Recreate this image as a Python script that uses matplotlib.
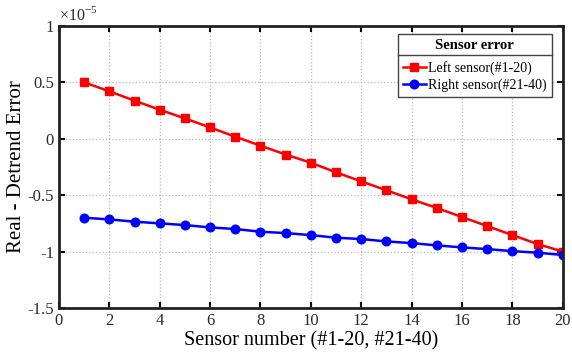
import numpy as np
import matplotlib
matplotlib.use('Agg')
import matplotlib.pyplot as plt
from matplotlib.ticker import FuncFormatter
from matplotlib.lines import Line2D

plt.rcParams['font.family'] = ['Liberation Serif', 'DejaVu Serif']
plt.rcParams['mathtext.fontset'] = 'custom'
plt.rcParams['mathtext.rm'] = 'Liberation Serif'
plt.rcParams['axes.unicode_minus'] = False

# values in units of 1e-5
sensor = list(range(1, 21))
left_err = [0.50, 0.42, 0.337, 0.257, 0.18, 0.10, 0.018, -0.062, -0.14, -0.213,
            -0.298, -0.378, -0.457, -0.537, -0.614, -0.694, -0.774, -0.854, -0.933, -1.0]
right_err = [-0.70, -0.715, -0.735, -0.75, -0.765, -0.786, -0.80, -0.824, -0.836, -0.854,
             -0.877, -0.889, -0.91, -0.925, -0.945, -0.963, -0.978, -0.996, -1.01, -1.03]

fig = plt.figure(figsize=(5.72, 3.59), dpi=100)
ax = fig.add_axes([0.103, 0.142, 0.881, 0.786])

ax.plot(sensor, left_err, 'r-s', lw=1.8, ms=5.5, label='Left sensor(#1-20)')
ax.plot(sensor, right_err, 'b-o', lw=1.8, ms=6.2, label='Right sensor(#21-40)')

ax.set_xlim(0, 20)
ax.set_ylim(-1.5, 1)
ax.set_xticks(range(0, 21, 2))
ax.set_yticks([-1.5, -1, -0.5, 0, 0.5, 1])
ax.yaxis.set_major_formatter(FuncFormatter(lambda v, p: '%g' % v))
ax.grid(True, ls=':', color='#b8b8b8', lw=0.9)
ax.tick_params(direction='in', top=True, right=True, labelsize=12, width=1.5, length=4,
               labelcolor='#2a2a2a')
for s in ax.spines.values():
    s.set_linewidth(2)
    s.set_color('#222222')

ax.set_xlabel('Sensor number (#1-20, #21-40)', fontsize=14.5, labelpad=2)
ax.set_ylabel('Real - Detrend Error', fontsize=15, labelpad=1)
ax.text(0.0, 1.005, r'$\times$10$^{-5}$', transform=ax.transAxes, fontsize=11.5,
        ha='left', va='bottom', color='#2a2a2a')

leg = ax.legend(loc='upper right', bbox_to_anchor=(0.978, 0.972), title='Sensor error',
                fontsize=10, title_fontproperties={'weight': 'bold', 'size': 10.5},
                frameon=True, fancybox=False, edgecolor='#444444', framealpha=1,
                handlelength=1.7, handletextpad=0.15, borderpad=0.35, labelspacing=0.25,
                borderaxespad=0)
leg.get_frame().set_linewidth(1)
leg._legend_box.sep = 7

fig.canvas.draw()
r = fig.canvas.get_renderer()
fb = leg.get_frame().get_window_extent(r)
tb = leg.get_title().get_window_extent(r)
ysep = tb.y0 - 3
inv = fig.transFigure.inverted()
(x0, y0) = inv.transform((fb.x0, ysep))
(x1, _) = inv.transform((fb.x1, ysep))
fig.add_artist(Line2D([x0, x1], [y0, y0], color='#444444', lw=1))

fig.savefig('out.png', dpi=100)
